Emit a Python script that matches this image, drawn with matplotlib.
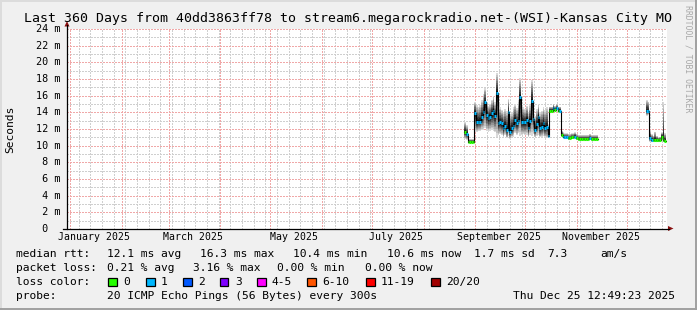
import matplotlib
matplotlib.use("Agg")
import numpy as np
import pandas as pd
import matplotlib.pyplot as plt
import matplotlib.transforms as mtransforms
from matplotlib.patches import Rectangle, Polygon
from matplotlib.lines import Line2D

W, H = 697, 310
MONO = "DejaVu Sans Mono"

title = "Last 360 Days from 40dd3863ff78 to stream6.megarockradio.net-(WSI)-Kansas City MO"
t_start = pd.Timestamp("2024-12-30 12:49:23")
t_end = pd.Timestamp("2025-12-25 12:49:23")

# ---- data (ms), one value per day ----
seg1_start = "2025-08-26"
seg1_median = [11.7, 11.4, 10.5, 10.5, 10.5, 10.5, 13.9, 12.9, 12.9, 12.9,
               13.5, 14.0, 15.2, 13.7, 13.3, 13.5, 13.9, 14.2, 13.6, 16.3,
               12.7, 12.8, 12.7, 12.1, 12.4, 11.9, 14.0, 11.7, 12.1, 12.4,
               13.1, 12.7, 13.0, 15.8, 12.9, 12.8, 12.8, 13.1, 12.1, 13.0,
               15.4, 13.2, 11.9, 12.6, 13.5, 12.1, 12.3, 12.7, 12.1, 12.3,
               11.2, 14.2, 14.2, 14.5, 14.3, 14.5, 14.2, 14.2, 11.3, 11.1,
               11.0, 11.0, 10.9, 10.9, 11.0, 11.0, 11.1, 10.9, 10.8, 10.8,
               10.8, 10.8, 10.8, 10.8, 10.8, 10.9, 10.8, 10.8, 10.8, 10.8]
seg1_loss = [0, 1, 0, 0, 0, 0, 1, 1, 1, 1,
             1, 1, 1, 1, 1, 1, 1, 1, 1, 1,
             1, 1, 1, 1, 1, 1, 1, 1, 1, 1,
             1, 1, 1, 1, 1, 1, 1, 1, 1, 1,
             1, 1, 1, 1, 1, 1, 1, 1, 1, 1,
             1, 0, 0, 1, 0, 1, 0, 1, 0, 1,
             1, 1, 0, 0, 0, 0, 1, 0, 0, 0,
             0, 0, 0, 0, 0, 1, 0, 0, 0, 0]
seg1_lo = [10.8, 10.7, 10.3, 10.3, 10.3, 10.3, 11.7, 11.7, 11.8, 11.8,
           11.9, 11.9, 12.1, 11.8, 11.7, 11.8, 11.9, 11.8, 11.6, 11.0,
           11.3, 11.4, 11.3, 11.0, 11.3, 10.9, 11.2, 10.8, 11.0, 11.1,
           11.5, 11.3, 11.5, 11.2, 11.3, 11.4, 11.3, 11.3, 11.0, 11.3,
           11.2, 11.4, 11.0, 11.2, 11.3, 11.0, 11.1, 11.2, 11.0, 10.9,
           10.9, 14.0, 14.0, 14.2, 14.1, 14.2, 14.0, 14.0, 11.1, 10.9,
           10.8, 10.8, 10.7, 10.7, 10.8, 10.8, 10.9, 10.7, 10.6, 10.6,
           10.6, 10.6, 10.6, 10.6, 10.6, 10.7, 10.6, 10.6, 10.6, 10.6]
seg1_hi = [12.9, 12.5, 10.8, 10.8, 10.8, 10.8, 15.3, 14.9, 14.6, 14.9,
           15.5, 16.2, 16.9, 15.3, 14.8, 15.0, 15.5, 16.0, 15.2, 18.7,
           14.5, 14.6, 14.3, 14.0, 14.4, 14.2, 15.6, 13.8, 14.0, 14.6,
           15.0, 14.5, 15.5, 18.1, 14.8, 14.6, 14.4, 14.8, 14.0, 14.9,
           17.9, 15.0, 13.6, 14.4, 15.0, 14.0, 14.2, 14.6, 14.3, 14.6,
           12.6, 14.7, 14.7, 15.0, 14.8, 15.0, 14.7, 14.7, 11.8, 11.6,
           11.5, 11.5, 11.4, 11.4, 11.5, 11.5, 11.6, 11.4, 11.3, 11.3,
           11.3, 11.3, 11.3, 11.3, 11.3, 11.4, 11.3, 11.3, 11.3, 11.3]

seg2_start = "2025-12-13"
seg2_median = [14.2, 14.2, 10.9, 10.7, 10.7, 10.7, 10.7, 10.7, 10.7, 11.1, 10.7, 10.6]
seg2_loss = [1, 1, 1, 1, 0, 0, 0, 0, 0, 0, 0, 0]
seg2_lo = [13.6, 13.7, 10.5, 10.4, 10.4, 10.4, 10.4, 10.4, 10.4, 10.6, 10.4, 10.4]
seg2_hi = [15.5, 15.3, 11.8, 11.4, 11.2, 11.7, 11.2, 11.0, 11.1, 11.6, 15.3, 11.5]

loss_labels = ["0", "1", "2", "3", "4-5", "6-10", "11-19", "20/20"]
loss_colors = ["#26ff00", "#00b8ff", "#0059ff", "#7e00ff",
               "#ff00fe", "#ff5500", "#ff0000", "#a10000"]

month_labels = ["January 2025", "March 2025", "May 2025",
                "July 2025", "September 2025", "November 2025"]
label_months = ["2025-01", "2025-03", "2025-05", "2025-07", "2025-09", "2025-11"]

legend_rows = [
    [("median rtt:", 16), ("12.1 ms avg", 107), ("16.3 ms max", 200),
     ("10.4 ms min", 293), ("10.6 ms now", 387), ("1.7 ms sd", 474),
     ("7.3", 547), ("am/s", 600)],
    [("packet loss:", 16), ("0.21 % avg", 107), ("3.16 % max", 193),
     ("0.00 % min", 277), ("0.00 % now", 365)],
    [("loss color:", 16)],
    [("probe:", 16), ("20 ICMP Echo Pings (56 Bytes) every 300s", 107),
     ("Thu Dec 25 12:49:23 2025", 513)],
]
swatch_x = [108, 146, 183, 220, 257, 307, 366, 431]


def fx(x):
    return x / W


def fy(y):
    return 1 - y / H


fig = plt.figure(figsize=(W / 100, H / 100), dpi=100, facecolor="#F0F0F0")
ax = fig.add_axes([fx(67), fy(229), 600 / W, 200 / H])
ax.set_facecolor("white")
ax.set_xlim(t_start, t_end)
ax.set_ylim(0, 24)
for s in ax.spines.values():
    s.set_visible(False)
ax.set_xticks([])
ax.set_yticks([])

# grid (1px dotted, crisp)
dot = (0, (1.4, 1.4))
minor_c, major_c = "#cfcfcf", "#f0a8a8"
for v in range(1, 25):
    ax.axhline(v, color=minor_c, lw=1.0, ls=dot, zorder=1, antialiased=False)
for v in range(2, 25, 2):
    ax.axhline(v, color=major_c, lw=1.0, ls=dot, zorder=1.5, antialiased=False)
for d in pd.date_range(t_start, t_end, freq="W-MON"):
    ax.axvline(d, color=minor_c, lw=1.0, ls=dot, zorder=1, antialiased=False)
for d in pd.date_range(t_start, t_end, freq="MS"):
    ax.axvline(d, color=major_c, lw=1.0, ls=dot, zorder=1.5, antialiased=False)


def draw_segment(start, med, loss, lo, hi):
    n = len(med)
    dates = pd.date_range(start, periods=n + 1, freq="D")
    med = np.array(med + [med[-1]], dtype=float)
    lo = np.array(lo + [lo[-1]], dtype=float)
    hi = np.array(hi + [hi[-1]], dtype=float)
    layers = 10
    for k in range(layers):
        f = 1 - k / layers
        shade = 0.85 - 0.8 * k / (layers - 1)
        ax.fill_between(dates, med - (med - lo) * f, med + (hi - med) * f,
                        step="post", color=str(shade), lw=0, zorder=2 + k * 0.01)
    ax.plot(dates, med, drawstyle="steps-post", color="black", lw=0.8, zorder=3)
    for i in range(n):
        ax.hlines(med[i], dates[i], dates[i + 1], color=loss_colors[loss[i]],
                  lw=2.2, zorder=4)


draw_segment(seg1_start, seg1_median, seg1_loss, seg1_lo, seg1_hi)
draw_segment(seg2_start, seg2_median, seg2_loss, seg2_lo, seg2_hi)

# axis labels
ytrans = mtransforms.blended_transform_factory(fig.transFigure, ax.transData)
for v in range(0, 25, 2):
    lab = f"{v:2d} m" if v else " 0"
    ax.text(fx(36), v, lab, transform=ytrans, family=MONO, fontsize=7.3,
            ha="left", va="center")
xtrans = mtransforms.blended_transform_factory(ax.transData, fig.transFigure)
for m, lab in zip(label_months, month_labels):
    ax.text(pd.Timestamp(m + "-16"), fy(237.5), lab, transform=xtrans,
            family=MONO, fontsize=7.1, ha="center", va="center")

# axes with arrows
fig.add_artist(Line2D([fx(67), fx(67)], [fy(229), fy(25)], color="black", lw=0.9))
fig.add_artist(Line2D([fx(63), fx(669)], [fy(228.5), fy(228.5)], color="black", lw=0.9))
arrow_c = "#8b1010"
fig.add_artist(Polygon([(fx(67), fy(21)), (fx(64.5), fy(26.5)), (fx(69.5), fy(26.5))],
                       closed=True, color=arrow_c, lw=0))
fig.add_artist(Polygon([(fx(673.5), fy(228.5)), (fx(668), fy(226)), (fx(668), fy(231))],
                       closed=True, color=arrow_c, lw=0))

# texts
fig.text(0.5, fy(18.5), title, family=MONO, fontsize=9.5, ha="center", va="center")
fig.text(fx(10), fy(129), "Seconds", family=MONO, fontsize=8.1, rotation=90,
         ha="center", va="center")
fig.text(fx(688), fy(59), "RRDTOOL / TOBI OETIKER", family=MONO, fontsize=5.9,
         rotation=270, ha="center", va="center", color="#a8a8a8")

row_y = [254.3, 268.3, 282.3, 296.3]
for row, y in zip(legend_rows, row_y):
    for txt, x in row:
        fig.text(fx(x), fy(y), txt, family=MONO, fontsize=8.1, ha="left", va="center")
for x, c, lab in zip(swatch_x, loss_colors, loss_labels):
    fig.add_artist(Rectangle((fx(x), fy(286)), 8.5 / W, 8.5 / H, facecolor=c,
                             edgecolor="black", lw=0.9, transform=fig.transFigure))
    fig.text(fx(x + 15), fy(282.3), lab, family=MONO, fontsize=8.1,
             ha="left", va="center")

# frame shading
fig.add_artist(Line2D([0, 1], [fy(0.5), fy(0.5)], color="#dcdcdc", lw=1.4))
fig.add_artist(Line2D([fx(0.5), fx(0.5)], [0, 1], color="#dcdcdc", lw=1.4))
fig.add_artist(Line2D([0, 1], [fy(309), fy(309)], color="#a0a0a0", lw=1.4))
fig.add_artist(Line2D([fx(696), fx(696)], [0, 1], color="#a0a0a0", lw=1.4))

fig.savefig("out.png", dpi=100, facecolor=fig.get_facecolor())
